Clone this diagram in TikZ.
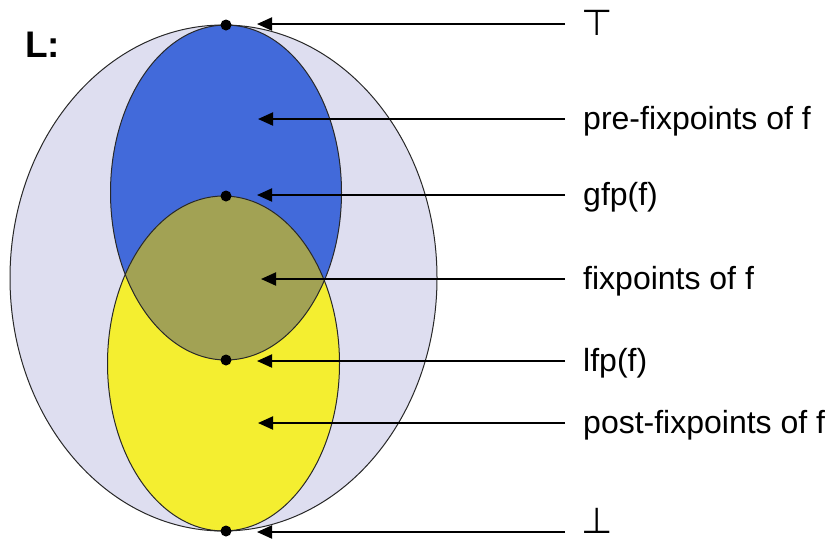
\documentclass[tikz,border=0pt]{standalone}
\usepackage{fontspec}
\setmainfont{Liberation Sans}
\newfontfamily\symfont{DejaVu Sans}
\usetikzlibrary{arrows.meta}
\definecolor{lav}{RGB}{222,222,240}
\definecolor{bluef}{RGB}{66,106,218}
\definecolor{yelf}{RGB}{244,238,48}
\definecolor{olive}{RGB}{162,162,84}
\definecolor{edge}{RGB}{40,40,40}
\tikzset{
  dot/.style={circle,fill=black,inner sep=0pt,minimum size=11pt},
  arr/.style={line width=2pt,-{Triangle[length=15pt,width=13pt]}},
  lbl/.style={anchor=base west,inner sep=0pt,font=\fontsize{32}{38}\selectfont},
  sym/.style={anchor=base west,inner sep=0pt,font=\symfont\fontsize{36}{40}\selectfont},
  outl/.style={draw=edge,line width=1pt}
}
\begin{document}
\begin{tikzpicture}[x=1pt,y=-1pt]
\useasboundingbox (0,0) rectangle (834,542);
% fills
\fill[lav] (223.5,278) ellipse [x radius=213.5pt, y radius=253pt];
\fill[bluef] (226,192.5) ellipse [x radius=115.5pt, y radius=167.5pt];
\fill[yelf] (223.5,363.5) ellipse [x radius=116pt, y radius=167.5pt];
\begin{scope}
  \clip (226,192.5) ellipse [x radius=115.5pt, y radius=167.5pt];
  \fill[olive] (223.5,363.5) ellipse [x radius=116pt, y radius=167.5pt];
\end{scope}
% outlines
\draw[outl] (223.5,278) ellipse [x radius=213.5pt, y radius=253pt];
\draw[outl] (226,192.5) ellipse [x radius=115.5pt, y radius=167.5pt];
\draw[outl] (223.5,363.5) ellipse [x radius=116pt, y radius=167.5pt];
% title
\node[anchor=base west,inner sep=0pt,font=\fontsize{37}{40}\selectfont\bfseries] (L) at (25,57) {L:};
% dots
\node[dot] (dtop) at (226,25) {};
\node[dot] (dgfp) at (226,196) {};
\node[dot] (dlfp) at (226,360) {};
\node[dot] (dbot) at (226,531) {};
% labels
\node[sym] (ltop) at (581,35) {⊤};
\node[lbl] (lpre) at (583,129) {pre-fixpoints of f};
\node[lbl] (lgfp) at (583,205) {gfp(f)};
\node[lbl] (lfix) at (583,289) {fixpoints of f};
\node[lbl] (llfp) at (583,371) {lfp(f)};
\node[lbl] (lpost) at (583,433) {post-fixpoints of f};
\node[sym] (lbot) at (581,533) {⊥};
% arrow coordinates
\coordinate (s1) at (565,24);  \coordinate (e1) at (257,24);
\coordinate (s2) at (565,119); \coordinate (e2) at (258,119);
\coordinate (s3) at (565,195); \coordinate (e3) at (257,195);
\coordinate (s4) at (565,279); \coordinate (e4) at (261,279);
\coordinate (s5) at (565,361); \coordinate (e5) at (257,361);
\coordinate (s6) at (565,423); \coordinate (e6) at (258,423);
\coordinate (s7) at (565,532); \coordinate (e7) at (257,532);
\foreach \i in {1,...,7} { \draw[arr] (s\i) -- (e\i); }
\end{tikzpicture}
\end{document}
